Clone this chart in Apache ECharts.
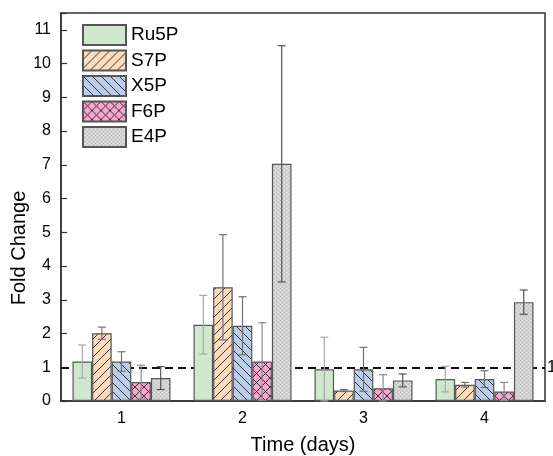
<!DOCTYPE html>
<html>
<head>
<meta charset="utf-8">
<script src="https://cdn.jsdelivr.net/npm/echarts@6/dist/echarts.min.js"></script>
<style>html,body{margin:0;padding:0;background:#fff}#c{width:553px;height:456px}</style>
</head>
<body>
<div id="c"></div>
<script>
const categories = ['1', '2', '3', '4'];
const seriesNames = ['Ru5P', 'S7P', 'X5P', 'F6P', 'E4P'];
const ru5p = [1.17, 2.26, 0.94, 0.65];
const ru5pErr = [0.49, 0.87, 0.95, 0.38];
const s7p = [2.01, 3.37, 0.31, 0.48];
const s7pErr = [0.18, 1.56, 0.03, 0.07];
const x5p = [1.17, 2.23, 0.94, 0.65];
const x5pErr = [0.29, 0.86, 0.65, 0.25];
const f6p = [0.56, 1.17, 0.38, 0.28];
const f6pErr = [0.50, 1.15, 0.40, 0.27];
const e4p = [0.68, 7.03, 0.61, 2.93];
const e4pErr = [0.34, 3.50, 0.19, 0.36];
const yTicks = [0, 1, 2, 3, 4, 5, 6, 7, 8, 9, 10, 11];
const refLine = 1;

const values = [ru5p, s7p, x5p, f6p, e4p];
const errors = [ru5pErr, s7pErr, x5pErr, f6pErr, e4pErr];

function makePattern(bg, kind) {
  const s = kind === 'dots' ? 4 : 9;
  const cv = document.createElement('canvas');
  cv.width = s; cv.height = s;
  const g = cv.getContext('2d');
  g.fillStyle = bg; g.fillRect(0, 0, s, s);
  g.strokeStyle = '#222'; g.lineWidth = 0.9;
  if (kind === 'fwd' || kind === 'cross') {
    for (const o of [-s, 0, s]) { g.beginPath(); g.moveTo(o, s); g.lineTo(o + s, 0); g.stroke(); }
  }
  if (kind === 'back' || kind === 'cross') {
    for (const o of [-s, 0, s]) { g.beginPath(); g.moveTo(o, 0); g.lineTo(o + s, s); g.stroke(); }
  }
  if (kind === 'dots') {
    g.fillStyle = '#bdbdbd';
    g.fillRect(0, 0, 1, 1); g.fillRect(2, 2, 1, 1);
    g.fillStyle = '#e4e4e4';
    g.fillRect(2, 0, 1, 1); g.fillRect(0, 2, 1, 1);
  }
  return { image: cv, repeat: 'repeat' };
}

const fills = [
  '#cfe7cd',
  makePattern('#fddcbd', 'fwd'),
  makePattern('#bccde9', 'back'),
  makePattern('#f7a6cf', 'cross'),
  makePattern('#d2d2d2', 'dots')
];
const errColors = ['#a8a8a8', '#707070', '#707070', '#8a8a8a', '#555'];

const gapRatio = 0.19;
const FONT = "'Liberation Sans', Arial, sans-serif";

const series = seriesNames.map((name, i) => {
  const s = {
    name: name,
    type: 'bar',
    data: values[i],
    barGap: '0%',
    barCategoryGap: (gapRatio * 100) + '%',
    z: 3,
    itemStyle: { color: fills[i], borderColor: '#555', borderWidth: 1.2 },
    emphasis: { disabled: true },
    animation: false
  };
  if (i === 0) {
    s.markLine = {
      silent: true,
      symbol: 'none',
      z: 2,
      animation: false,
      lineStyle: { type: [8, 5], color: '#111', width: 2 },
      label: { position: 'end', formatter: String(refLine), fontSize: 17, color: '#000', distance: 2, fontFamily: FONT },
      data: [{ yAxis: refLine }]
    };
  }
  return s;
});

const errData = [];
for (let i = 0; i < 5; i++) {
  for (let c = 0; c < categories.length; c++) {
    errData.push([c, values[i][c], errors[i][c], i]);
  }
}

series.push({
  type: 'custom',
  z: 5,
  silent: true,
  animation: false,
  data: errData,
  renderItem: function (params, api) {
    const cat = api.value(0), v = api.value(1), e = api.value(2), si = api.value(3);
    const band = api.size([1, 0])[0];
    const bw = band * (1 - gapRatio) / 5;
    const x = api.coord([cat, v])[0] + (si - 2) * bw;
    const hi = api.coord([cat, v + e])[1];
    const lo = api.coord([cat, Math.max(0, v - e)])[1];
    const cap = 4;
    const st = { stroke: errColors[si], lineWidth: 1.2 };
    return {
      type: 'group',
      children: [
        { type: 'line', shape: { x1: x, y1: hi, x2: x, y2: lo }, style: st },
        { type: 'line', shape: { x1: x - cap, y1: hi, x2: x + cap, y2: hi }, style: st },
        { type: 'line', shape: { x1: x - cap, y1: lo, x2: x + cap, y2: lo }, style: st }
      ]
    };
  }
});

const chart = echarts.init(document.getElementById('c'), null, { renderer: 'canvas' });
chart.setOption({
  animation: false,
  textStyle: { fontFamily: FONT },
  grid: { left: 61, right: 8, top: 13, bottom: 55, show: true, borderColor: '#333', borderWidth: 1.5, containLabel: false, outerBoundsMode: 'none' },
  legend: {
    data: seriesNames,
    orient: 'vertical',
    left: 82, top: 24,
    padding: 0,
    icon: 'rect',
    itemWidth: 43, itemHeight: 20, itemGap: 3.5,
    textStyle: { fontSize: 19, color: '#000', fontFamily: FONT },
    selectedMode: false
  },
  xAxis: {
    type: 'category',
    data: categories,
    name: 'Time (days)',
    nameLocation: 'middle',
    nameGap: 34,
    nameTextStyle: { fontSize: 20, color: '#000', fontFamily: FONT },
    axisLine: { lineStyle: { color: '#333', width: 1.5 } },
    axisTick: { show: false },
    axisLabel: { fontSize: 16, color: '#000', margin: 10, fontFamily: FONT }
  },
  yAxis: {
    type: 'value',
    min: 0, max: 11.5, interval: 1,
    axisLine: { show: true, lineStyle: { color: '#333', width: 1.5 } },
    axisTick: { show: true, inside: true, length: 6, lineStyle: { color: '#333', width: 1.2 } },
    axisLabel: {
      fontSize: 16, color: '#000', margin: 10, fontFamily: FONT,
      formatter: function (v) { return yTicks.indexOf(v) >= 0 ? String(v) : ''; }
    },
    splitLine: { show: false }
  },
  graphic: [{
    type: 'text',
    x: 19, y: 248,
    rotation: Math.PI / 2,
    style: { text: 'Fold Change', fontSize: 20, fill: '#000', fontFamily: FONT, textAlign: 'center', textVerticalAlign: 'middle' }
  }],
  series: series
});
</script>
</body>
</html>
